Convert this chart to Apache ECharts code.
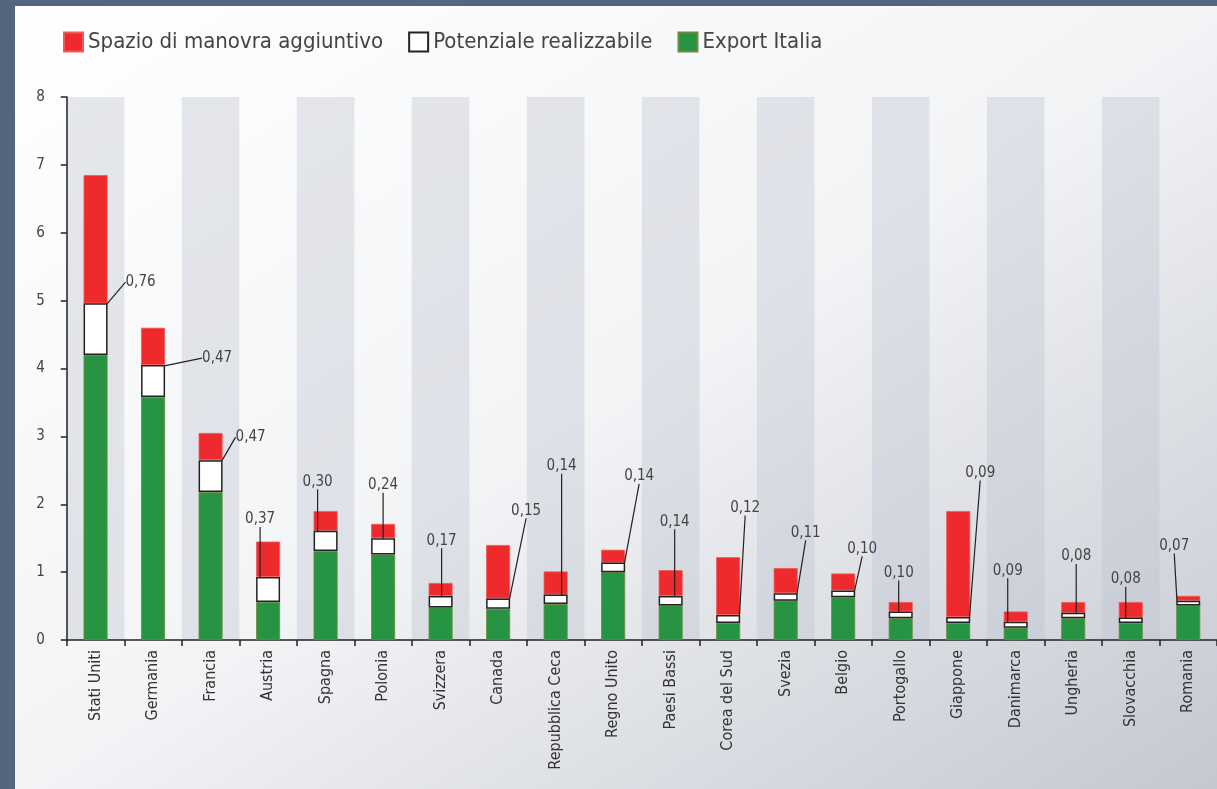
<!DOCTYPE html>
<html>
<head>
<meta charset="utf-8">
<script src="https://cdn.jsdelivr.net/npm/echarts@6/dist/echarts.min.js"></script>
<style>
  html, body { margin:0; padding:0; width:1217px; height:789px; overflow:hidden; background:#53667e; }
  #panel { position:absolute; left:15px; top:6px; width:1202px; height:783px;
    background: linear-gradient(to bottom right, #ffffff 0%, #f3f4f6 50%, #c4c8d1 100%); }
  #chart { position:absolute; left:0; top:0; width:1217px; height:789px; }
</style>
</head>
<body>
<div id="panel"></div>
<div id="chart"></div>
<script>
const countries = ['Stati Uniti','Germania','Francia','Austria','Spagna','Polonia','Svizzera','Canada','Repubblica Ceca','Regno Unito','Paesi Bassi','Corea del Sud','Svezia','Belgio','Portogallo','Giappone','Danimarca','Ungheria','Slovacchia','Romania'];
const exportItalia = [4.20,3.58,2.18,0.56,1.31,1.26,0.48,0.46,0.53,1.00,0.51,0.25,0.58,0.63,0.32,0.25,0.18,0.32,0.25,0.51];
const potenziale = [0.76,0.47,0.47,0.37,0.30,0.24,0.17,0.15,0.14,0.14,0.14,0.12,0.11,0.10,0.10,0.09,0.09,0.08,0.08,0.07];
const spazio = [1.89,0.55,0.40,0.52,0.29,0.21,0.19,0.79,0.34,0.19,0.38,0.85,0.37,0.25,0.14,1.56,0.15,0.16,0.23,0.07];
const yTicks = [0,1,2,3,4,5,6,7,8];

// label offsets (px) from the centre of each "potenziale" segment
const labelOffsets = [[45,-47],[64,-23],[40,-39],[-8,-70],[-8,-59],[0,-61],[1,-61],[28,-93],[6,-133],[26,-91],[4,-79],[17,-111],[20,-64],[19,-45],[-2,-42],[22,-147],[-8,-54],[3,-59],[-5,-41],[-14,-57]];

const FONT = '"Liberation Sans Narrow","DejaVu Sans Condensed","Roboto",sans-serif';
const chart = echarts.init(document.getElementById('chart'), null, {renderer:'canvas'});
chart.setOption({
  backgroundColor: 'transparent',
  animation: false,
  textStyle: { fontFamily: FONT },
  legend: {
    left: 63, top: 31, padding: 0,
    itemWidth: 19, itemHeight: 19, itemGap: 25,
    icon: 'rect',
    data: ['Spazio di manovra aggiuntivo','Potenziale realizzabile','Export Italia'],
    textStyle: { fontSize: 22, color: '#444', fontFamily: FONT }
  },
  grid: { left: 66.8, top: 97, width: 1154, height: 543 },
  xAxis: {
    type: 'category',
    data: countries,
    axisLine: { lineStyle: { color: '#222', width: 1.5 } },
    axisTick: { show: true, length: 6, lineStyle: { color: '#222', width: 1.5 } },
    axisLabel: { rotate: 90, fontSize: 16, color: '#333', margin: 10, fontFamily: FONT },
    splitArea: { show: true, areaStyle: { color: ['rgba(188,194,208,0.38)','rgba(0,0,0,0)'] } }
  },
  yAxis: {
    type: 'value', min: 0, max: 8, interval: 1,
    axisLine: { show: true, lineStyle: { color: '#222', width: 1.5 } },
    axisTick: { show: true, length: 6, lineStyle: { color: '#222', width: 1.5 } },
    axisLabel: { fontSize: 15, color: '#444', margin: 22, fontFamily: FONT,
      formatter: v => yTicks.includes(v) ? String(v) : '' },
    splitLine: { show: false }
  },
  series: [
    {
      name: 'Export Italia', type: 'bar', stack: 'tot', barWidth: 24,
      data: exportItalia,
      itemStyle: { color: '#269442', borderColor: '#6f8a3c', borderWidth: 0.8 }
    },
    {
      name: 'Potenziale realizzabile', type: 'bar', stack: 'tot', barWidth: 24,
      data: potenziale,
      itemStyle: { color: '#ffffff', borderColor: '#222', borderWidth: 1.5 },
      label: {
        show: true, position: 'inside', fontSize: 15, color: '#444', fontFamily: FONT,
        padding: [3, 3, 5, 3],
        formatter: p => p.value.toFixed(2).replace('.', ',')
      },
      labelLine: { show: true, lineStyle: { color: '#222', width: 1.2 } },
      labelLayout: p => ({ dx: labelOffsets[p.dataIndex][0], dy: labelOffsets[p.dataIndex][1] }),
      z: 3
    },
    {
      name: 'Spazio di manovra aggiuntivo', type: 'bar', stack: 'tot', barWidth: 24,
      data: spazio,
      itemStyle: { color: '#ee2a2d', borderColor: '#f05a5a', borderWidth: 0.8 }
    }
  ]
});
</script>
</body>
</html>
